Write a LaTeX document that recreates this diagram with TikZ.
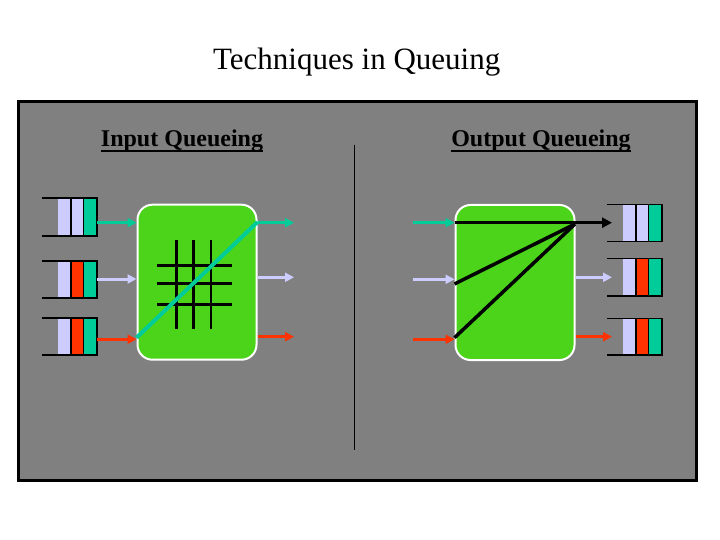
\documentclass[tikz,border=0pt]{standalone}
\usepackage{fontspec}
\setmainfont{Liberation Serif}
\usetikzlibrary{arrows.meta}
\definecolor{panelgray}{RGB}{128,128,128}
\definecolor{lav}{RGB}{204,204,255}
\definecolor{qred}{RGB}{255,51,0}
\definecolor{qteal}{RGB}{0,204,153}
\definecolor{sgreen}{RGB}{76,212,26}
\begin{document}
\begin{tikzpicture}[x=1pt,y=-1pt,
  qline/.style={line width=1.6pt},
  cellbox/.style={draw=black, line width=1.6pt},
  flow/.style={line width=3pt, -{Triangle[length=9pt,width=9pt]}},
  conn/.style={line width=3.5pt},
  gridline/.style={line width=2.6pt},
  switchbox/.style={draw=white, line width=2pt, fill=sgreen, rounded corners=15pt,
    minimum width=119pt, minimum height=155pt, inner sep=0pt},
  heading/.style={font=\fontsize{24}{28}\selectfont\bfseries, inner sep=0pt, anchor=base}]
\useasboundingbox (0,0) rectangle (720,540);

% title
\node[font=\fontsize{31}{36}\selectfont, inner sep=0pt, anchor=base] (title) at (356.7,70) {Techniques in Queuing};

% panel
\draw[line width=3pt, fill=panelgray] (18,102) rectangle (696,480);

% headings
\node[heading] (hin) at (182,147) {Input Queueing};
\node[heading] (hout) at (541,147) {Output Queueing};
\draw[line width=1.6pt] ([yshift=-4pt]hin.base west) -- ([yshift=-4pt]hin.base east);
\draw[line width=1.6pt] ([yshift=-4pt]hout.base west) -- ([yshift=-4pt]hout.base east);

% divider
\coordinate (dtop) at (354,145);
\coordinate (dbot) at (354,450);
\draw[line width=1pt] (dtop) -- (dbot);

% queues (left x of lines, top, bottom, middle colour)
\foreach \x/\t/\b/\c in {42/198/236/lav, 42/261/298/qred, 42/318/355/qred,
                         607/204.5/241.5/lav, 607/258.5/296/qred, 607/318.5/355/qred}{
  \fill[lav] (\x+15.7,\t) rectangle (\x+28.7,\b);
  \filldraw[fill=\c, cellbox] (\x+28.7,\t) rectangle (\x+41.3,\b);
  \filldraw[fill=qteal, cellbox] (\x+41.3,\t) rectangle (\x+54.7,\b);
  \draw[qline] (\x,\t) -- (\x+54.7,\t);
  \draw[qline] (\x,\b) -- (\x+54.7,\b);
}

% ---------- left switch ----------
\node[switchbox] (swL) at (197,282.2) {};
% grid
\foreach \gx in {176.7,193.3,211}{
  \draw[gridline] (\gx,240) -- (\gx,328.5);
}
\foreach \gy in {265.5,283.3,304.3}{
  \draw[gridline] (157.3,\gy) -- (231.7,\gy);
}
% input coordinates
\coordinate (qL1) at (97,222.7);
\coordinate (qL2) at (97,279);
\coordinate (qL3) at (97,339.3);
\draw[flow, qteal] (qL1) -- (swL.west |- qL1);
\draw[flow, lav] (qL2) -- (swL.west |- qL2);
\draw[flow, qred] (qL3) -- (swL.west |- qL3);
% outputs
\coordinate (oL1) at (294,222.7);
\coordinate (oL2) at (294,277.3);
\coordinate (oL3) at (294,336.7);
\draw[flow, qteal] (swL.east |- oL1) -- (oL1);
\draw[flow, lav] (swL.east |- oL2) -- (oL2);
\draw[flow, qred] (swL.east |- oL3) -- (oL3);
% crossing path
\draw[line width=4pt, qteal] (swL.west |- 0,337.7) -- (swL.east |- 0,222);

% ---------- right switch ----------
\node[switchbox] (swR) at (515,282.5) {};
\coordinate (iR1) at (413,222.7);
\coordinate (iR2) at (413,279.3);
\coordinate (iR3) at (413,339.3);
\draw[flow, qteal] (iR1) -- (swR.west |- iR1);
\draw[flow, lav] (iR2) -- (swR.west |- iR2);
\draw[flow, qred] (iR3) -- (swR.west |- iR3);
\coordinate (oR1) at (612,222.7);
\coordinate (oR2) at (612,277.3);
\coordinate (oR3) at (612,336.7);
\draw[flow, lav] (swR.east |- oR2) -- (oR2);
\draw[flow, qred] (swR.east |- oR3) -- (oR3);
% black paths
\coordinate (hub) at (575,224);
\draw[conn, black] (swR.west |- 0,284) -- (hub);
\draw[conn, black] (swR.west |- 0,337.7) -- (hub);
\draw[line width=3pt, black, -{Triangle[length=10pt,width=10pt]}] (swR.west |- oR1) -- (oR1);
\end{tikzpicture}
\end{document}
